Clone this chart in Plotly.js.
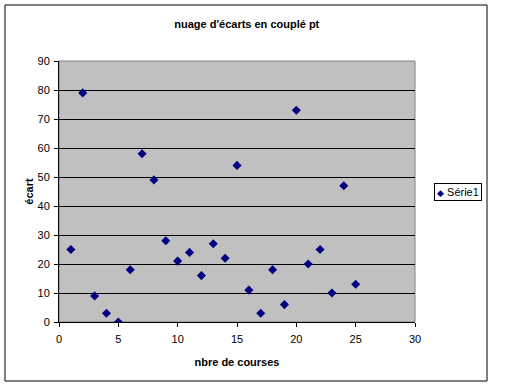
<!DOCTYPE html>
<html>
<head>
<meta charset="utf-8">
<script src="https://cdn.plot.ly/plotly-3.0.1.min.js"></script>
<style>html,body{margin:0;padding:0;background:#fff;}#chart{width:512px;height:387px;}</style>
</head>
<body>
<div id="chart"></div>
<script>
const courses = [1,2,3,4,5,6,7,8,9,10,11,12,13,14,15,16,17,18,19,20,21,22,23,24,25];
const ecarts = [25,79,9,3,0,18,58,49,28,21,24,16,27,22,54,11,3,18,6,73,20,25,10,47,13];
const seriesName = 'Série1';
const chartTitle = "nuage d'écarts en couplé pt";
const xTitle = 'nbre de courses';
const yTitle = 'écart';

const font = 'Arial, "Liberation Sans", sans-serif';
const trace = {
  x: courses, y: ecarts, type: 'scatter', mode: 'markers', name: seriesName,
  marker: {symbol: 'diamond', size: 7, color: '#000080'}
};
const L = 59, R = 415, T = 61, B = 322;
const W = R - L, H = B - T;
const px = v => (v - L) / W, py = v => (B - v) / H;
const layout = {
  width: 512, height: 387,
  margin: {l: L, r: 512 - R, t: T, b: 387 - B, pad: 0},
  paper_bgcolor: '#ffffff', plot_bgcolor: '#c0c0c0',
  font: {family: font, size: 11, color: '#000'},
  title: {text: chartTitle, font: {family: font, size: 11, weight: 'bold', color: '#000'}, x: 0.482, xanchor: 'center', y: 1 - 24/387, yanchor: 'middle'},
  showlegend: false,
  xaxis: {range: [0, 30], dtick: 5, tick0: 0, showgrid: false, zeroline: false, showline: true, linecolor: '#000', linewidth: 1, ticks: 'outside', ticklen: 4, tickcolor: '#000', tickfont: {size: 11}, ticklabelstandoff: 3,
    title: {text: xTitle, font: {size: 11, weight: 'bold'}, standoff: 14}},
  yaxis: {range: [0, 90], dtick: 10, tick0: 0, showgrid: true, gridcolor: '#000', gridwidth: 1, zeroline: false, showline: true, linecolor: '#000', linewidth: 1, ticks: 'outside', ticklen: 4, tickcolor: '#000', tickfont: {size: 11}, ticklabelstandoff: 2,
    title: {text: yTitle, font: {size: 11, weight: 'bold'}, standoff: 1}},
  annotations: [
    {xref: 'paper', yref: 'paper', x: px(434), y: py(183), xanchor: 'left', yanchor: 'top', showarrow: false,
     text: '<span style="color:#000080;font-size:9px">◆</span> ' + seriesName, font: {family: font, size: 11, color: '#000'},
     bordercolor: '#000', borderwidth: 1, borderpad: 2, bgcolor: '#fff'}
  ],
  shapes: [
    {type: 'rect', xref: 'paper', yref: 'paper', x0: 0, x1: 1, y0: 0, y1: 1, line: {color: '#808080', width: 1}, layer: 'below'},
    {type: 'rect', xref: 'paper', yref: 'paper', x0: px(5), x1: px(487), y0: py(381), y1: py(5), line: {color: '#000', width: 1}}
  ]
};
Plotly.newPlot('chart', [trace], layout, {displayModeBar: false, staticPlot: true});
</script>
</body>
</html>
